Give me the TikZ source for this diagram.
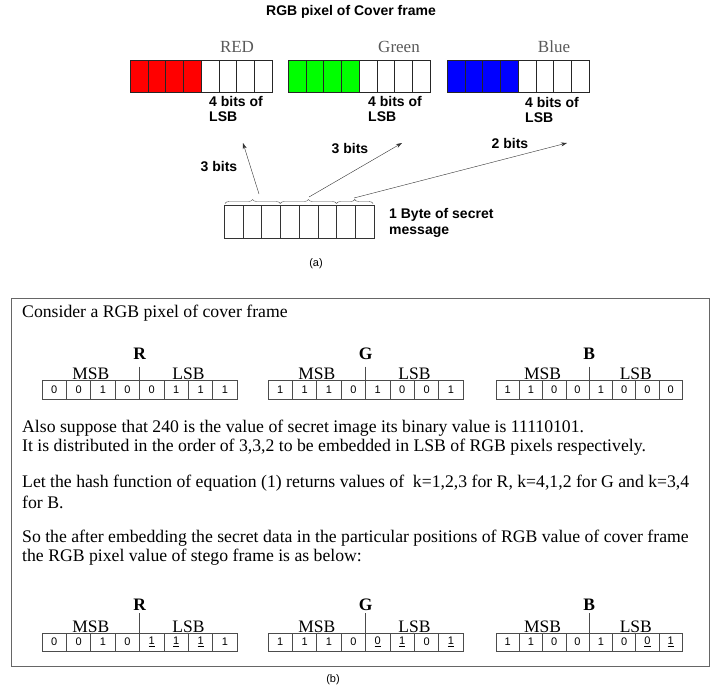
\documentclass[tikz,border=0pt]{standalone}
\usepackage{fontspec}
\setmainfont{Liberation Serif}
\setsansfont{Liberation Sans}
\usetikzlibrary{arrows.meta, positioning, calc, decorations.pathreplacing}

\begin{document}
\begin{tikzpicture}[
    x=1pt, y=-1pt,
    font=\rmfamily,
    lbl/.style={font=\sffamily\bfseries\fontsize{14}{15.5}\selectfont, align=left, inner sep=0pt},
    chan/.style={font=\rmfamily\fontsize{17}{17}\selectfont, text=black!65, inner sep=0pt},
    cell/.style={draw=black!85, minimum width=17.75pt, minimum height=32pt, inner sep=0pt, outer sep=0pt},
    bytecell/.style={draw=black!80, minimum width=18.75pt, minimum height=33pt, inner sep=0pt, outer sep=0pt},
    bit/.style={draw=black!70, line width=0.8pt, minimum height=19pt, inner sep=0pt, outer sep=0pt,
        font=\sffamily\fontsize{11}{11}\selectfont},
    body/.style={font=\rmfamily\fontsize{17.7}{19}\selectfont, anchor=west, inner sep=0pt},
    side/.style={font=\rmfamily\fontsize{17.5}{17.5}\selectfont, inner sep=0pt, anchor=base},
    rgb/.style={font=\rmfamily\bfseries\fontsize{17.5}{17.5}\selectfont, inner sep=0pt, anchor=base},
    divider/.style={draw=black!70, line width=0.8pt},
    arr/.style={draw=black!80, thin, -{Stealth[length=6pt, width=4pt]}},
    brc/.style={draw=black!70, thin, decorate, decoration={brace, amplitude=4pt}},
    captxt/.style={font=\sffamily\fontsize{11}{11}\selectfont, inner sep=0pt}
]
\useasboundingbox (0,0) rectangle (712,690);

% -------------------------
% (a) RGB pixel of cover frame
% -------------------------
\node[lbl] (title) at (351, 12) {RGB pixel of Cover frame};

% RED
\foreach \i in {1,...,8}
  \node[cell] (red\i) at ({130+17.75*(\i-0.5)}, 76) {};
\foreach \i in {1,...,4}
  \node[cell, fill=red] at (red\i) {};
\node[chan] (redlbl) at (237, 47) {RED};
\node[lbl, anchor=north west] (redlsb) at (209, 96) {4 bits of\\LSB};

% GREEN
\foreach \i in {1,...,8}
  \node[cell] (green\i) at ({288+17.75*(\i-0.5)}, 76) {};
\foreach \i in {1,...,4}
  \node[cell, fill=green] at (green\i) {};
\node[chan] (greenlbl) at (399, 47) {Green};
\node[lbl, anchor=north west] (greenlsb) at (368, 96) {4 bits of\\LSB};

% BLUE
\foreach \i in {1,...,8}
  \node[cell] (blue\i) at ({447+17.75*(\i-0.5)}, 76) {};
\foreach \i in {1,...,4}
  \node[cell, fill=blue] at (blue\i) {};
\node[chan] (bluelbl) at (554, 47) {Blue};
\node[lbl, anchor=north west] (bluelsb) at (525, 97) {4 bits of\\LSB};

% secret byte
\foreach \i in {1,...,8}
  \node[bytecell] (byte\i) at ({224+18.75*(\i-0.5)}, 222) {};
\node[lbl, anchor=west] (bytelbl) at (389, 223) {1 Byte of secret\\message};
\draw[brc] ($(byte1.north west)+(1,-2)$) -- ($(byte3.north east)+(0,-2)$);
\draw[brc] ($(byte4.north west)+(0,-2)$) -- ($(byte6.north east)+(0,-2)$);
\draw[brc] ($(byte7.north west)+(0,-2)$) -- ($(byte8.north east)+(-1,-2)$);

\coordinate (brA) at (259, 194);
\coordinate (brB) at (309, 197);
\coordinate (brC) at (354, 198);
\coordinate (tipA) at (243, 143);
\coordinate (tipB) at (402, 143);
\coordinate (tipC) at (567, 143);
\draw[arr] (brA) -- (tipA);
\draw[arr] (brB) -- (tipB);
\draw[arr] (brC) -- (tipC);
\node[lbl] (bitsA) at (219, 167) {3 bits};
\node[lbl] (bitsB) at (350, 149) {3 bits};
\node[lbl] (bitsC) at (510, 143) {2 bits};

\node[captxt] (capA) at (316, 264) {(a)};

% -------------------------
% (b) worked example
% -------------------------
\draw[black!60, line width=1pt] (11, 298) rectangle (709, 666);

\node[body] (line1) at (22, 313) {Consider a RGB pixel of cover frame};

% R (cover)
\foreach \d [count=\i] in {0,0,1,0,0,1,1,1}
  \node[bit, minimum width=24.4pt] (cR\i) at ({42+24.4*(\i-0.5)}, 390) {\d};
\coordinate (cRtop) at ($(cR4.north east)+(0,-14)$);
\draw[divider] (cRtop) -- (cR4.south east);
\node[rgb] (cRlbl) at ($(cRtop)+(0,-7)$) {R};
\node[side] (cRmsb) at ($(cR2.north east)+(0,-1)$) {MSB};
\node[side] (cRlsb) at ($(cR6.north east)+(0,-1)$) {LSB};

% G (cover)
\foreach \d [count=\i] in {1,1,1,0,1,0,0,1}
  \node[bit, minimum width=24.4pt] (cG\i) at ({268+24.4*(\i-0.5)}, 390) {\d};
\coordinate (cGtop) at ($(cG4.north east)+(0,-14)$);
\draw[divider] (cGtop) -- (cG4.south east);
\node[rgb] (cGlbl) at ($(cGtop)+(0,-7)$) {G};
\node[side] (cGmsb) at ($(cG2.north east)+(0,-1)$) {MSB};
\node[side] (cGlsb) at ($(cG6.north east)+(0,-1)$) {LSB};

% B (cover)
\foreach \d [count=\i] in {1,1,0,0,1,0,0,0}
  \node[bit, minimum width=23.3pt] (cB\i) at ({496+23.3*(\i-0.5)}, 390) {\d};
\coordinate (cBtop) at ($(cB4.north east)+(0,-14)$);
\draw[divider] (cBtop) -- (cB4.south east);
\node[rgb] (cBlbl) at ($(cBtop)+(0,-7)$) {B};
\node[side] (cBmsb) at ($(cB2.north east)+(0,-1)$) {MSB};
\node[side] (cBlsb) at ($(cB6.north east)+(0,-1)$) {LSB};

\node[body] (line2) at (22, 428) {Also suppose that 240 is the value of secret image its binary value is 11110101.};
\node[body] (line3) at (22, 447) {It is distributed in the order of 3,3,2 to be embedded in LSB of RGB pixels respectively.};
\node[body] (line4) at (22, 483) {Let the hash function of equation (1) returns values of \ k=1,2,3 for R, k=4,1,2 for G and k=3,4};
\node[body] (line5) at (22, 502) {for B.};
\node[body] (line6) at (22, 538) {So the after embedding the secret data in the particular positions of RGB value of cover frame};
\node[body] (line7) at (22, 557) {the RGB pixel value of stego frame is as below:};

% R (stego)
\foreach \d [count=\i] in {0,0,1,0,\underline{1},\underline{1},\underline{1},1}
  \node[bit, minimum width=24.4pt, minimum height=18pt] (sR\i) at ({42+24.4*(\i-0.5)}, 642) {\d};
\coordinate (sRtop) at ($(sR4.north east)+(0,-20)$);
\draw[divider] (sRtop) -- (sR4.south east);
\node[rgb] (sRlbl) at ($(sRtop)+(0,-3)$) {R};
\node[side] (sRmsb) at ($(sR2.north east)+(0,-1)$) {MSB};
\node[side] (sRlsb) at ($(sR6.north east)+(0,-1)$) {LSB};

% G (stego)
\foreach \d [count=\i] in {1,1,1,0,\underline{0},\underline{1},0,\underline{1}}
  \node[bit, minimum width=24.4pt, minimum height=18pt] (sG\i) at ({268+24.4*(\i-0.5)}, 642) {\d};
\coordinate (sGtop) at ($(sG4.north east)+(0,-20)$);
\draw[divider] (sGtop) -- (sG4.south east);
\node[rgb] (sGlbl) at ($(sGtop)+(0,-3)$) {G};
\node[side] (sGmsb) at ($(sG2.north east)+(0,-1)$) {MSB};
\node[side] (sGlsb) at ($(sG6.north east)+(0,-1)$) {LSB};

% B (stego)
\foreach \d [count=\i] in {1,1,0,0,1,0,\underline{0},\underline{1}}
  \node[bit, minimum width=23.3pt, minimum height=18pt] (sB\i) at ({496+23.3*(\i-0.5)}, 642) {\d};
\coordinate (sBtop) at ($(sB4.north east)+(0,-20)$);
\draw[divider] (sBtop) -- (sB4.south east);
\node[rgb] (sBlbl) at ($(sBtop)+(0,-3)$) {B};
\node[side] (sBmsb) at ($(sB2.north east)+(0,-1)$) {MSB};
\node[side] (sBlsb) at ($(sB6.north east)+(0,-1)$) {LSB};

\node[captxt] (capB) at (333, 680) {(b)};

\end{tikzpicture}
\end{document}
